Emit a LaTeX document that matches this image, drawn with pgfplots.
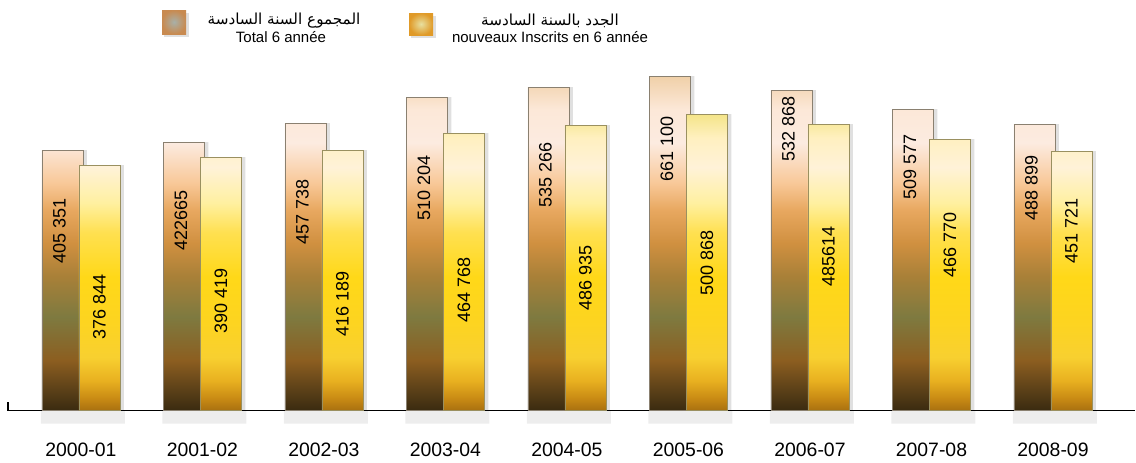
\documentclass[border=0pt]{standalone}
\usepackage{pgfplots}
\pgfplotsset{compat=1.18}
\usepackage{fontspec}
\setmainfont{Liberation Sans}
\newfontfamily\arabicfont[Script=Arabic]{DejaVu Sans}
\TeXXeTstate=1
\newlength{\px}\setlength{\px}{0.5pt}

\definecolor{ta0}{HTML}{3A2A10}
\definecolor{ta1}{HTML}{5A4018}
\definecolor{ta2}{HTML}{8C5E20}
\definecolor{ta3}{HTML}{7E7A40}
\definecolor{ta4}{HTML}{A88038}
\definecolor{ta5}{HTML}{D09040}
\definecolor{ta6}{HTML}{E8A860}
\definecolor{ta7}{HTML}{F8C898}
\definecolor{ta8}{HTML}{FCEBE0}
\definecolor{ta9}{HTML}{FCE8D8}
\definecolor{ta10}{HTML}{F0D0A8}

\definecolor{ya0}{HTML}{A87010}
\definecolor{ya1}{HTML}{C88A14}
\definecolor{ya2}{HTML}{E8B020}
\definecolor{ya3}{HTML}{F8D030}
\definecolor{ya4}{HTML}{FDD420}
\definecolor{ya5}{HTML}{FFD818}
\definecolor{ya6}{HTML}{FFE050}
\definecolor{ya7}{HTML}{FFF0A0}
\definecolor{ya8}{HTML}{FFF2D8}
\definecolor{ya9}{HTML}{FFF0C0}
\definecolor{ya10}{HTML}{F4E488}

\definecolor{tedge}{HTML}{8A8070}
\definecolor{yedge}{HTML}{9A9060}
\definecolor{lg1in}{HTML}{A8B0A8}
\definecolor{lg1out}{HTML}{C88A50}
\definecolor{lg2in}{HTML}{E8E0A0}
\definecolor{lg2out}{HTML}{E09A28}

% stops mapped into the 25bp--75bp band that TikZ fits to the path
\pgfdeclareverticalshading{totalsh}{100bp}{color(0bp)=(ta0); color(25bp)=(ta0); color(28bp)=(ta1); color(32.5bp)=(ta2); color(39bp)=(ta3); color(45bp)=(ta4); color(50bp)=(ta5); color(55bp)=(ta6); color(59bp)=(ta7); color(65bp)=(ta8); color(70bp)=(ta9); color(75bp)=(ta10); color(100bp)=(ta10)}
\pgfdeclareverticalshading{yellowsh}{100bp}{color(0bp)=(ya0); color(25bp)=(ya0); color(27bp)=(ya1); color(30bp)=(ya2); color(34bp)=(ya3); color(40bp)=(ya4); color(47.5bp)=(ya5); color(55bp)=(ya6); color(60bp)=(ya7); color(66bp)=(ya8); color(71bp)=(ya9); color(75bp)=(ya10); color(100bp)=(ya10)}

\begin{document}
\begin{tikzpicture}
\path[use as bounding box] (0,0) rectangle (1136\px,-462\px);
\begin{axis}[
  at={(8\px,0)}, anchor=north west,
  scale only axis, width=1127\px, height=410.5\px,
  xmin=-0.6, xmax=8.675, ymin=0, ymax=410.5,
  axis y line=none, axis x line*=bottom,
  x axis line style={-, line width=0.75pt, black},
  xtick={0,1,2,3,4,5,6,7,8},
  xticklabels={2000-01,2001-02,2002-03,2003-04,2004-05,2005-06,2006-07,2007-08,2008-09},
  major tick length=0pt,
  xticklabel style={anchor=center, yshift=-39.5\px, font=\fontsize{9.7}{11}\selectfont},
  clip=false,
]
% soft shadow below the baseline
\addplot[ybar, bar width=84\px, bar shift=2\px, fill=black, fill opacity=0.07, draw=none, forget plot]
  coordinates {(0,-13) (1,-13) (2,-13) (3,-13) (4,-13) (5,-13) (6,-13) (7,-13) (8,-13)};
% shadows
\addplot[ybar, bar width=41\px, bar shift=-14.5\px, fill=black, fill opacity=0.12, draw=none, forget plot]
  coordinates {(0,260.5) (1,268.5) (2,287.5) (3,313.5) (4,323.5) (5,334.5) (6,320.5) (7,301.5) (8,286.5)};
% Total 6 annee
\addplot[ybar, bar width=41\px, bar shift=-18.5\px, shade, shading=totalsh, draw=tedge, line width=0.4pt]
  coordinates {(0,260.5) (1,268.5) (2,287.5) (3,313.5) (4,323.5) (5,334.5) (6,320.5) (7,301.5) (8,286.5)};
\addplot[ybar, bar width=41\px, bar shift=22.5\px, fill=black, fill opacity=0.12, draw=none, forget plot]
  coordinates {(0,245.5) (1,253.5) (2,260.5) (3,277.5) (4,285.5) (5,296.5) (6,286.5) (7,271.5) (8,259.5)};
% nouveaux inscrits
\addplot[ybar, bar width=41\px, bar shift=18.5\px, shade, shading=yellowsh, draw=yedge, line width=0.4pt]
  coordinates {(0,245.5) (1,253.5) (2,260.5) (3,277.5) (4,285.5) (5,296.5) (6,286.5) (7,271.5) (8,259.5)};
% labels
\addplot[draw=none, mark=none, nodes near coords, point meta=explicit symbolic,
  every node near coord/.append style={rotate=90, anchor=center, font=\fontsize{9}{10}\selectfont, text=black}]
  coordinates {(-0.177,180) [405 351] (0.823,190.5) [422665] (1.823,199) [457 738] (2.823,223) [510 204]
   (3.823,236) [535 266] (4.823,261.5) [661 100] (5.823,281.5) [532 868] (6.823,243.5) [509 577] (7.823,222.5) [488 899]};
\addplot[draw=none, mark=none, nodes near coords, point meta=explicit symbolic,
  every node near coord/.append style={rotate=90, anchor=center, font=\fontsize{9}{10}\selectfont, text=black}]
  coordinates {(0.152,104) [376 844] (1.152,109.5) [390 419] (2.152,106.5) [416 189] (3.152,120.5) [464 768]
   (4.152,133) [486 935] (5.152,148) [500 868] (6.152,154) [485614] (7.152,165.5) [466 770] (8.152,180) [451 721]};
\end{axis}
\draw[line width=0.75pt] (8\px,-402\px) -- (8\px,-410.5\px);
% legend
\fill[black, opacity=0.12] (164\px,-13\px) rectangle (189\px,-37\px);
\shade[inner color=lg1in, outer color=lg1out] (162\px,-10\px) rectangle (186\px,-34\px);
\fill[black, opacity=0.12] (411\px,-16\px) rectangle (436\px,-38\px);
\shade[inner color=lg2in, outer color=lg2out] (409\px,-13\px) rectangle (433\px,-35\px);
\node[font=\arabicfont\fontsize{7.6}{9}\selectfont] at (284\px,-21\px) {\beginR المجموع السنة السادسة\endR};
\node[font=\fontsize{7.5}{9}\selectfont] at (281\px,-37\px) {Total 6 année};
\node[font=\arabicfont\fontsize{7.6}{9}\selectfont] at (550\px,-21\px) {\beginR الجدد بالسنة السادسة\endR};
\node[font=\fontsize{7.5}{9}\selectfont] at (550\px,-37\px) {nouveaux Inscrits en 6 année};
\end{tikzpicture}
\end{document}
